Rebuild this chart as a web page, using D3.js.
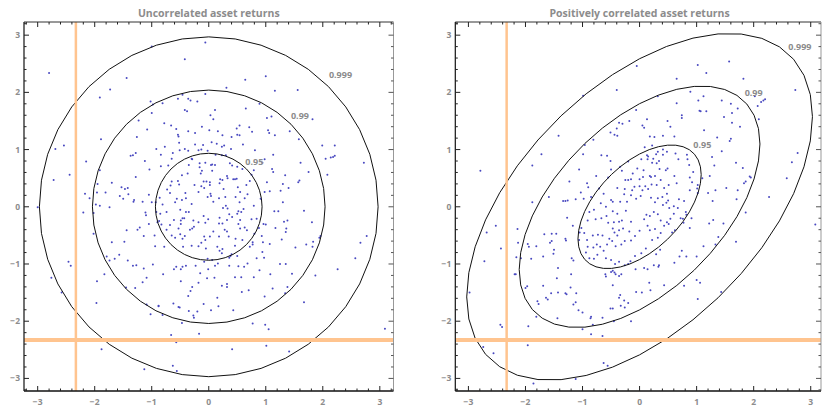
<!DOCTYPE html>
<html>
<head>
<meta charset="utf-8">
<script src="https://cdn.jsdelivr.net/npm/d3@7"></script>
<style>
  body { margin: 0; background: #fff; }
  text { font-family: "Open Sans", "Noto Sans", sans-serif; font-weight: 700; fill: #8c8c8c; }
</style>
</head>
<body>
<div id="chart"></div>
<script>
var width = 822, height = 408;

// chart values
var levels = ["0.95", "0.99", "0.999"];
var uncorrRadii = [0.935, 2.04, 2.97];
var corrRadii = [1.08, 2.11, 3.03];
var corrRho = 0.52;
var uncorrLabelPos = [[0.8, 0.79], [1.6, 1.59], [2.31, 2.3]];
var corrLabelPos = [[1.1, 1.09], [2.0, 2.0], [2.81, 2.8]];
var threshold = -2.33;
var tickValues = [-3, -2, -1, 0, 1, 2, 3];

var uncorrPoints = [
[-0.06,2.87],[-0.42,2.58],[-2.80,2.34],[-1.44,2.25],[-1.73,2.05],[-1.91,1.91],[-1.0,2.80],[0.64,2.22],[1.0,2.28],[0.31,2.08],
[1.16,2.03],[1.56,2.04],[-0.06,1.97],[0.89,1.80],[0.65,1.72],[1.82,1.53],[1.02,1.55],[1.10,1.58],[-1.89,1.18],[-2.69,1.01],
[-2.54,1.07],[-2.15,0.79],[-2.44,0.56],[-2.72,0.47],[-3.0,-0.01],[-2.17,0.23],[-2.09,0.15],[-2.20,-0.10],[-2.02,-0.47],[-2.46,-0.96],
[-2.42,-1.03],[-2.76,-1.24],[-2.58,-1.50],[-1.96,-1.30],[-1.97,-1.68],[-1.83,-1.18],[-1.88,-2.49],[-1.13,-2.84],[-0.63,-2.78],[-0.56,-2.87],
[-0.57,-2.37],[-0.66,-2.24],[-0.17,-2.22],[0.41,-2.49],[1.01,-2.43],[1.41,-2.53],[3.09,-2.13],[2.26,-1.09],[1.87,-1.20],[1.67,-1.67],
[2.57,-0.90],[2.66,-0.63],[2.77,-0.51],[2.72,0.77],[2.21,1.07],[1.99,1.07],[2.05,0.84],[2.14,0.86],[2.18,0.87],[2.21,0.89],
[2.08,0.56],[1.67,-0.07],[1.81,-0.27],[1.94,-0.54],[1.96,-0.51],[1.83,-0.61],[1.82,-0.70],[1.71,-0.66],[1.52,-0.71],[1.35,-1.00],
[1.46,-1.17],[1.38,-1.40],[1.34,-1.51],[1.12,-1.43],[0.98,-1.57],[0.99,-2.06],[1.05,-2.14],[0.77,-2.04],[0.43,-1.81],[0.15,-1.59],
[0.17,-1.74],[0.04,-1.81],[-0.09,-1.70],[-0.20,-1.83],[-0.27,-1.90],[-0.26,-1.94],[-0.35,-1.82],[-0.47,-2.03],[-0.51,-1.76],[-0.53,-1.75],
[-0.62,-1.69],[-0.81,-1.89],[-0.88,-1.73],[-1.02,-1.88],[-0.88,-1.74],[-1.09,-1.71],[-1.02,1.84],[-0.98,1.79],[-0.81,1.81],[-1.23,1.51],
[-1.0,1.64],[-1.08,1.35],[-0.78,1.46],[-0.66,1.42],[-0.57,1.36],[-0.54,1.26],[-0.52,1.12],[-0.53,1.23],[-1.26,1.22],[-0.46,1.96],
[-0.36,1.89],[-0.32,1.86],[-0.20,1.84],[-0.42,1.69],[-0.38,1.67],[-0.54,1.89],[-0.36,1.32],[-0.24,1.29],[-0.12,1.40],[0.03,1.60],
[0.11,1.69],[0.08,1.53],[0.01,1.34],[0.16,1.32],[0.24,1.25],[0.40,1.22],[0.49,1.37],[0.50,1.26],[0.54,1.25],[0.71,1.39],
[0.76,1.31],[1.04,1.34],[1.06,1.29],[1.16,1.25],[0.54,1.42],[1.42,1.32],[1.58,1.18],[1.61,0.77],[1.75,0.61],[1.57,0.43],
[1.59,0.46],[1.40,0.33],[1.26,0.28],[1.30,0.08],[1.15,-0.08],[1.22,-0.08],[1.32,-0.26],[1.38,-0.24],[1.17,-0.37],[1.36,-0.38],
[1.35,-0.44],[1.28,-0.57],[1.07,-0.65],[0.95,-0.62],[0.97,-0.89],[0.84,-0.90],[0.94,-0.79],[1.25,-1.00],[1.08,-1.18],[0.89,-1.11],
[0.79,-1.23],[0.68,-0.99],[0.62,-1.05],[0.52,-1.04],[0.57,-1.23],[0.46,-1.23],[0.32,-1.35],[0.23,-1.38],[0.32,-1.40],[0.58,-1.49],
[0.70,-1.46],[-0.03,-1.25],[0.10,-1.24],[-0.18,-1.33],[-0.29,-1.40],[-0.32,-1.47],[-0.36,-1.56],[-0.49,-1.30],[-0.61,-1.09],[-0.57,-1.05],
[-0.49,-1.09],[-0.46,-1.05],[-0.40,-1.03],[-0.23,-1.03],[-0.15,-1.16],[-0.01,-1.09],[0.11,-1.03],[0.16,-0.99],[0.36,-1.03],[0.50,-0.86],
[0.38,-0.86],[-0.80,-1.18],[-0.98,-1.01],[-1.14,-1.08],[-1.27,-1.02],[-1.33,-1.03],[-1.42,-0.94],[-1.16,-1.32],[-1.09,-1.24],[-1.29,-1.42],
[-1.45,-1.41],[-1.57,-0.84],[-1.65,-0.91],[-1.74,-0.94],[-1.79,-0.87],[-1.70,-0.62],[-1.48,-0.61],[-1.44,-0.41],[-1.25,-0.40],[-1.21,-0.36],
[-1.14,-0.51],[-0.95,-0.50],[-0.94,-0.69],[-0.78,-0.70],[-0.90,-0.27],[-0.87,-0.25],[-1.05,-0.30],[-1.11,-0.10],[-1.10,-0.15],[-1.05,0.21],
[-1.16,0.09],[-1.32,0.09],[-1.31,0.12],[-1.41,0.22],[-1.42,0.33],[-1.47,0.31],[-1.53,0.34],[-1.50,0.14],[-1.56,0.19],[-1.70,0.42],
[-1.74,-0.01],[-1.91,0.02],[-1.95,0.40],[-1.96,0.25],[-1.91,0.64],[-1.98,0.04],[-2.02,-0.11],[-1.81,0.25],[-1.28,0.52],[-1.28,0.94],
[-1.37,0.89],[-1.33,0.90],[-1.12,0.80],[-1.04,0.65],[-0.92,1.01],[-0.84,0.91],[-0.77,1.05],[-0.63,0.94],[-0.71,0.72],[-0.84,0.71],
[-0.65,0.84],[-0.51,0.99],[-0.42,1.01],[-0.36,0.98],[-0.30,0.84],[-0.37,0.58],[-0.29,0.83],[-0.24,1.09],[-0.18,0.99],[-0.13,1.0],
[-0.10,1.08],[-0.02,0.98],[0.05,1.13],[0.14,1.10],[0.23,1.05],[0.27,1.07],[0.23,0.90],[0.12,0.91],[0.30,0.90],[0.37,0.76],
[0.41,0.72],[0.60,1.09],[0.81,0.99],[0.98,0.83],[0.94,0.77],[1.13,0.91],[0.79,0.64],[0.75,0.56],[1.13,0.61],[1.11,0.66],
[1.02,0.43],[1.34,0.55],[0.98,0.26],[1.07,0.27],[1.30,0.40],[0.91,0.14],[0.79,0.02],[0.75,-0.22],[0.84,-0.21],[0.96,-0.30],
[1.0,-0.31],[0.88,-0.37],[0.80,-0.47],[0.93,-0.51],[0.77,-0.66],[0.72,-0.70],[0.77,-0.62],[0.59,-0.58],[0.67,-0.41],[0.63,-0.36],
[0.55,-0.38],[0.52,-0.30],[0.55,-0.23],[0.57,-0.09],[0.52,-0.08],[0.61,-0.04],[0.54,0.08],[0.63,0.15],[0.68,0.22],[0.47,0.17],
[0.51,0.34],[0.55,0.26],[0.49,0.49],[0.43,0.48],[0.46,0.48],[0.33,0.50],[0.24,0.47],[0.20,0.48],[0.26,0.31],[0.19,0.41],
[0.02,0.43],[0.02,0.38],[0.04,0.73],[0.11,0.73],[0.06,0.63],[-0.12,0.63],[-0.14,0.58],[-0.04,0.44],[-0.09,0.44],[-0.08,0.33],
[-0.13,0.36],[-0.18,0.26],[-0.25,0.38],[0.03,0.23],[-0.02,0.17],[0.08,0.09],[0.18,0.15],[0.29,0.17],[0.30,0.02],[0.25,-0.02],
[0.33,-0.03],[0.36,-0.13],[0.41,-0.18],[0.50,-0.12],[0.32,-0.23],[0.24,-0.29],[0.19,-0.19],[0.18,-0.29],[0.28,-0.40],[0.32,-0.43],
[0.35,-0.52],[0.18,-0.52],[0.02,-0.52],[0.08,-0.43],[-0.01,-0.22],[-0.06,-0.28],[-0.09,-0.16],[-0.18,-0.27],[-0.27,-0.24],[-0.29,-0.38],
[-0.26,-0.35],[-0.33,-0.40],[-0.35,-0.09],[-0.40,-0.09],[-0.43,-0.20],[-0.46,-0.20],[-0.49,-0.24],[-0.49,-0.30],[-0.53,-0.38],[-0.61,-0.23],
[-0.68,-0.32],[-0.74,-0.40],[-0.83,-0.31],[-0.65,-0.50],[-0.59,-0.54],[-0.50,-0.48],[-0.42,-0.51],[-0.46,-0.56],[-0.45,-0.70],[-0.30,-0.68],
[-0.18,-0.69],[-0.13,-0.63],[-0.08,-0.52],[-0.06,-0.58],[-0.05,-0.73],[0.15,-0.70],[0.19,-0.77],[0.24,-0.74],[0.46,-0.68],[0.47,-0.56],
[0.40,-0.83],[0.36,-0.89],[0.23,-0.81],[0.06,-0.93],[-0.08,-0.96],[-0.02,-0.91],[0.04,0.19],[-0.30,0.05],[-0.40,0.15],[-0.47,0.12],
[-0.59,0.08],[-0.50,-0.05],[-0.56,0.14],[-0.68,0.24],[-0.67,0.37],[-0.65,0.44],[-0.54,0.45],[-0.52,0.39],[-0.41,0.24],[-0.86,0.16],
[-0.81,0.04],[-0.85,-0.12],[-0.74,-0.09],[-0.92,-0.09],[-1.0,0.08],[-0.93,0.08],[-0.73,0.30],[-0.47,0.55],[-0.35,0.73],[-0.16,0.76],
[-0.06,0.77],[0.06,0.74],[-0.16,0.69],[0.39,1.01],[0.59,0.66],[0.50,0.70],[0.32,0.54],[0.66,0.38],[0.72,0.45]
];

var corrPoints = [
[-0.05,2.46],[-0.40,2.04],[-0.99,1.94],[-1.42,1.24],[-1.72,0.92],[-2.79,0.63],[-1.88,0.72],[-1.88,0.08],[-2.68,-0.45],[-2.52,-0.33],
[-2.43,-0.73],[-2.72,-0.95],[-2.98,-1.50],[-2.44,-2.06],[-2.41,-2.10],[-2.74,-2.45],[-2.56,-2.56],[-1.95,-2.09],[-1.96,-2.42],[-1.86,-3.09],
[-1.12,-3.01],[-0.63,-2.73],[-0.56,-2.78],[-0.65,-2.26],[-0.57,-2.34],[-1.0,-2.14],[-0.85,-2.23],[-2.14,-0.39],[-2.19,-1.18],[-2.17,-1.18],
[-2.16,-0.88],[-2.13,-0.63],[-2.08,-0.90],[-2.0,-1.42],[-1.97,-1.39],[-1.90,-0.91],[-1.81,-0.69],[-1.96,-0.65],[-1.94,-0.70],[-1.69,-1.38],
[-1.79,-1.65],[-1.77,-1.70],[-1.81,-1.92],[-1.64,-1.59],[-1.61,-1.62],[-1.55,-1.51],[-1.43,-1.50],[-1.30,-1.51],[-1.28,-1.53],[-1.11,-1.51],
[-1.12,-1.67],[-1.16,-1.71],[-1.07,-1.81],[-0.86,-1.95],[-0.85,-1.92],[-0.82,-2.06],[-1.44,-1.95],[-1.21,-1.41],[-1.45,-1.25],[-1.43,-1.07],
[-1.51,-0.82],[-1.50,-0.75],[-1.69,-0.87],[-1.67,-0.48],[-1.54,-0.47],[-1.46,-0.47],[-1.57,-0.63],[-1.54,-0.60],[-1.30,-0.56],[-1.29,-0.59],
[-1.17,-0.33],[-1.27,-0.19],[-1.19,-0.90],[-1.16,-0.94],[-1.20,-1.18],[-1.34,0.10],[-1.30,0.10],[-1.26,0.11],[-1.12,0.13],[-1.23,0.44],
[-1.06,0.65],[-1.03,0.25],[-0.98,0.14],[-0.92,0.41],[-0.76,0.54],[-1.59,0.17],[-0.99,0.92],[-0.96,1.08],[-0.81,1.17],[-0.67,0.90],
[-0.57,0.89],[-0.51,0.80],[-0.51,1.30],[-0.44,1.26],[-0.39,1.24],[-0.40,1.37],[-0.36,1.47],[-0.30,1.45],[-0.18,1.50],[-0.06,1.69],
[0.05,1.42],[0.13,1.53],[0.08,1.38],[0.18,1.23],[0.26,1.22],[0.32,1.93],[0.41,1.24],[0.49,1.50],[0.54,1.40],[0.61,1.23],
[0.65,2.24],[0.65,1.81],[0.74,1.60],[0.74,1.55],[0.89,2.01],[1.02,2.48],[1.17,2.34],[1.03,1.86],[1.05,1.68],[1.07,1.67],
[1.17,1.67],[1.12,1.93],[1.13,1.34],[1.57,2.54],[1.82,2.24],[2.02,1.93],[2.07,1.76],[2.13,1.83],[2.17,1.86],[2.20,1.88],
[2.09,1.53],[2.73,2.04],[2.77,0.94],[2.67,0.78],[2.58,0.50],[2.27,0.17],[3.08,-0.31],[1.44,1.86],[1.60,1.80],[1.72,1.72],
[1.62,1.64],[1.48,1.57],[1.62,1.47],[1.76,1.40],[1.60,1.19],[1.58,1.15],[1.36,1.21],[1.27,0.87],[1.31,0.72],[1.44,0.97],
[1.69,0.77],[1.81,0.68],[1.93,0.53],[1.95,0.51],[1.83,0.41],[1.86,0.44],[1.72,0.29],[1.70,0.13],[1.52,0.33],[1.33,0.29],
[1.20,0.24],[1.28,0.10],[1.23,0.54],[1.10,0.50],[1.86,-0.10],[1.69,-0.61],[1.47,-0.29],[1.29,-0.23],[1.22,-0.29],[1.38,-0.53],
[1.33,-0.66],[1.12,-0.69],[1.00,-0.87],[1.00,-1.28],[1.06,-1.33],[1.02,-1.61],[1.43,-1.49],[0.78,-1.38],[0.61,-0.98],[0.70,-0.87],
[0.82,-0.87],[0.74,-0.77],[0.88,-0.37],[0.91,-0.20],[0.81,-0.09],[0.78,0.10],[0.76,-0.21],[0.77,-0.28],[0.82,-0.14],[1.02,0.24],
[1.01,0.32],[0.88,0.29],[0.92,0.43],[0.88,0.51],[0.94,0.61],[0.84,0.83],[0.87,0.73],[0.83,0.91],[0.68,0.83],[0.63,0.93],
[0.48,0.96],[0.41,1.00],[0.29,0.92],[0.13,0.90],[0.09,1.04],[0.22,1.07],[0.32,0.96],[0.41,0.91],[0.34,0.80],[0.14,0.83],
[0.22,0.77],[0.07,0.64],[0.06,0.52],[0.20,0.52],[0.27,0.54],[0.35,0.66],[0.49,0.67],[0.46,0.64],[0.61,0.54],[0.65,0.41],
[0.51,0.38],[0.43,0.33],[0.37,0.47],[0.30,0.38],[0.21,0.39],[0.15,0.31],[0.05,0.29],[0.0,0.36],[-0.09,0.35],[-0.15,0.48],
[-0.13,0.29],[0.02,0.19],[-0.15,0.20],[-0.06,0.14],[0.20,0.16],[0.32,0.15],[0.27,0.08],[0.41,0.03],[0.50,0.11],[0.52,-0.02],
[0.47,0.07],[0.60,0.01],[0.67,-0.02],[0.60,-0.12],[0.72,-0.20],[0.54,-0.21],[0.48,-0.27],[0.37,-0.24],[0.32,-0.13],[0.25,-0.09],
[0.18,-0.16],[0.12,-0.14],[0.08,-0.22],[0.14,-0.33],[0.18,-0.41],[0.27,-0.39],[0.37,-0.46],[0.43,-0.33],[0.51,-0.30],[0.57,-0.45],
[0.62,-0.41],[0.32,-0.54],[0.22,-0.58],[0.11,-0.73],[0.03,-0.81],[-0.08,-0.86],[-0.16,-0.95],[-0.20,-1.0],[-0.26,-1.02],[-0.07,-1.09],
[0.08,-1.07],[0.14,-1.09],[0.25,-1.02],[0.33,-1.05],[0.34,-1.02],[0.29,-0.83],[0.36,-0.75],[0.43,-1.37],[0.04,-1.50],[0.17,-1.33],
[0.19,-1.46],[-0.06,-1.49],[-0.20,-1.68],[-0.26,-1.76],[-0.34,-1.54],[-0.36,-1.59],[-0.33,-1.73],[-0.51,-1.78],[-0.47,-1.78],[-0.47,-1.37],
[-0.59,-1.22],[-0.60,-1.18],[-0.50,-1.14],[-0.44,-1.15],[-0.42,-1.18],[-0.47,-1.12],[-0.36,-1.21],[-0.32,-1.18],[-0.27,-1.64],[-0.15,-2.0],
[-0.45,-2.0],[-0.65,-1.94],[-1.0,-1.85],[-0.36,-0.96],[-0.43,-1.0],[-0.50,-0.93],[-0.59,-0.90],[-0.63,-0.77],[-0.74,-0.84],[-0.80,-0.91],
[-0.88,-0.90],[-0.91,-0.70],[-0.94,-0.80],[-0.75,-0.66],[-0.81,-0.71],[-0.69,-0.70],[-0.57,-0.66],[-0.48,-0.60],[-0.42,-0.69],[-0.32,-0.66],
[-0.26,-0.60],[-0.15,-0.59],[-0.08,-0.51],[-0.18,-0.43],[-0.29,-0.38],[-0.36,-0.41],[-0.39,-0.50],[-0.44,-0.45],[-0.47,-0.38],[-0.53,-0.56],
[-0.65,-0.50],[-0.73,-0.49],[-0.82,-0.50],[-0.92,-0.58],[-0.97,-0.46],[-1.05,-0.45],[-1.06,-0.58],[-1.02,-0.37],[-0.91,-0.24],[-0.88,-0.09],
[-0.80,-0.05],[-0.77,-0.22],[-0.67,-0.20],[-0.58,-0.16],[-0.55,-0.28],[-0.45,-0.27],[-0.36,-0.26],[-0.31,-0.24],[-0.15,-0.26],[0.0,-0.42],
[-0.68,0.06],[-0.59,0.0],[-0.50,0.12],[-0.47,0.09],[-0.34,0.09],[-0.47,-0.08],[-0.39,-0.12],[-0.24,-0.07],[-0.22,0.09],[-0.27,0.22],
[-0.39,0.33],[-0.26,0.31],[-0.20,0.47],[-0.25,0.47],[-0.31,0.63],[-0.34,0.70],[-0.20,0.79],[-0.12,0.58],[-0.04,0.67],[0.03,0.83],
[0.15,0.88],[0.30,0.76],[0.24,0.84],[-0.55,0.51],[-0.63,0.23],[-0.71,0.32],[-0.90,0.34],[-0.85,0.17],[-0.50,0.65],[0.0,0.48],
[0.10,0.36],[0.18,0.54],[0.40,0.17],[0.69,0.13],[0.48,0.23],[1.02,0.38]
];

var svg = d3.select("#chart").append("svg")
  .attr("width", width)
  .attr("height", height);

function drawPanel(cfg) {
  var x = d3.scaleLinear().domain(cfg.xDomain).range(cfg.xRange);
  var y = d3.scaleLinear().domain([-3.22, 3.23]).range([391, 22]);

  var g = svg.append("g");

  g.append("text")
    .attr("x", x(0))
    .attr("y", 17)
    .attr("text-anchor", "middle")
    .style("font-size", "10.5px")
    .text(cfg.title);

  // points
  g.selectAll(".pt")
    .data(cfg.points)
    .enter().append("circle")
      .attr("class", "pt")
      .attr("cx", function(d) { return x(d[0]); })
      .attr("cy", function(d) { return y(d[1]); })
      .attr("r", 1)
      .style("fill", "#4848c0");

  // contour ellipses
  var line = d3.line()
    .x(function(d) { return x(d[0]); })
    .y(function(d) { return y(d[1]); })
    .curve(d3.curveLinearClosed);
  var steps = d3.range(0, 40).map(function(i) { return i / 40 * 2 * Math.PI; });
  var rho = cfg.rho;
  cfg.radii.forEach(function(r) {
    var pts = steps.map(function(t) {
      return [r * Math.cos(t), r * (rho * Math.cos(t) + Math.sqrt(1 - rho * rho) * Math.sin(t))];
    });
    g.append("path")
      .attr("d", line(pts))
      .style("fill", "none")
      .style("stroke", "#111")
      .style("stroke-width", 1);
  });

  g.selectAll(".lvl")
    .data(levels)
    .enter().append("text")
      .attr("class", "lvl")
      .attr("x", function(d, i) { return x(cfg.labelPos[i][0]); })
      .attr("y", function(d, i) { return y(cfg.labelPos[i][1]); })
      .attr("dy", "0.35em")
      .attr("text-anchor", "middle")
      .style("font-size", "9px")
      .text(function(d) { return d; });

  // threshold lines
  g.append("line")
    .attr("x1", x(threshold)).attr("x2", x(threshold))
    .attr("y1", y.range()[0]).attr("y2", y.range()[1])
    .style("stroke", "#ffc48f").style("stroke-width", 2.5);
  g.append("line")
    .attr("x1", x.range()[0]).attr("x2", x.range()[1])
    .attr("y1", y(threshold)).attr("y2", y(threshold))
    .style("stroke", "#ffc48f").style("stroke-width", 4);

  // frame
  var x0 = x.range()[0], x1 = x.range()[1], y0 = y.range()[0], y1 = y.range()[1];
  g.append("line").attr("x1", x0).attr("x2", x1).attr("y1", y1).attr("y2", y1).style("stroke", "#333");
  g.append("line").attr("x1", x1).attr("x2", x1).attr("y1", y0).attr("y2", y1).style("stroke", "#999");
  g.append("line").attr("x1", x0).attr("x2", x0).attr("y1", y0).attr("y2", y1).style("stroke", "#111").style("stroke-width", 1.2);
  g.append("line").attr("x1", x0).attr("x2", x1).attr("y1", y0).attr("y2", y0).style("stroke", "#111").style("stroke-width", 1.5);

  var minorX = d3.range(-32, 33, 2).map(function(v) { return v / 10; })
    .filter(function(v) { return v >= x.domain()[0] && v <= x.domain()[1]; });
  var minorY = d3.range(-32, 33, 2).map(function(v) { return v / 10; })
    .filter(function(v) { return v >= y.domain()[0] && v <= y.domain()[1]; });

  function len(v) { return Math.abs(v - Math.round(v)) < 1e-6 ? 5 : 2.5; }

  minorX.forEach(function(v) {
    g.append("line").attr("x1", x(v)).attr("x2", x(v)).attr("y1", y0).attr("y2", y0 - len(v)).style("stroke", "#222");
    g.append("line").attr("x1", x(v)).attr("x2", x(v)).attr("y1", y1).attr("y2", y1 + len(v)).style("stroke", "#222");
  });
  minorY.forEach(function(v) {
    g.append("line").attr("x1", x0).attr("x2", x0 + len(v)).attr("y1", y(v)).attr("y2", y(v)).style("stroke", "#222");
    g.append("line").attr("x1", x1).attr("x2", x1 - len(v)).attr("y1", y(v)).attr("y2", y(v)).style("stroke", "#555");
  });

  g.selectAll(".xt")
    .data(tickValues)
    .enter().append("text")
      .attr("x", function(d) { return x(d); })
      .attr("y", 405)
      .attr("text-anchor", "middle")
      .style("font-size", "8.5px")
      .text(function(d) { return d < 0 ? "\u2212" + Math.abs(d) : d; });

  g.selectAll(".yt")
    .data(tickValues)
    .enter().append("text")
      .attr("x", x0 - 4)
      .attr("y", function(d) { return y(d); })
      .attr("dy", "0.35em")
      .attr("text-anchor", "end")
      .style("font-size", "8.5px")
      .text(function(d) { return d < 0 ? "\u2212" + Math.abs(d) : d; });
}

drawPanel({
  title: "Uncorrelated asset returns",
  points: uncorrPoints,
  radii: uncorrRadii,
  rho: 0,
  labelPos: uncorrLabelPos,
  xDomain: [-3.24, 3.24],
  xRange: [24, 393.5]
});

drawPanel({
  title: "Positively correlated asset returns",
  points: corrPoints,
  radii: corrRadii,
  rho: corrRho,
  labelPos: corrLabelPos,
  xDomain: [-3.23, 3.18],
  xRange: [455.3, 821]
});
</script>
</body>
</html>
